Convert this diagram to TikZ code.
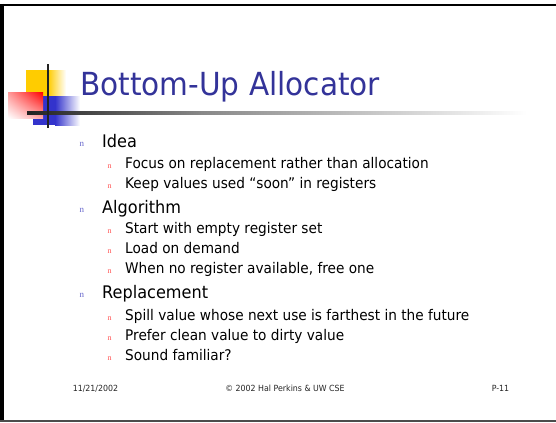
\documentclass[tikz,border=0pt]{standalone}
\usepackage{fontspec}
\usetikzlibrary{shadings}
\setmainfont[FakeStretch=0.93]{DejaVu Sans}
\newfontfamily\bulletfont{Liberation Serif}
\definecolor{titleblue}{HTML}{333399}
\definecolor{bulletblue}{HTML}{6666CC}
\definecolor{bulletred}{HTML}{FF5050}
\definecolor{logoyellow}{HTML}{FFCC00}
\definecolor{logored}{HTML}{FF0000}
\definecolor{logoblue}{HTML}{3333CC}
\definecolor{rulegray}{HTML}{222222}
\begin{document}
\begin{tikzpicture}[x=1bp,y=-1bp,
  titletext/.style={anchor=base west,inner sep=0pt,text=titleblue,font=\fontsize{31.9}{36}\selectfont},
  lvlone/.style={anchor=base west,inner sep=0pt,font=\fontsize{17.4}{20}\selectfont},
  lvltwo/.style={anchor=base west,inner sep=0pt,font=\fontsize{14.75}{18}\selectfont},
  bulone/.style={anchor=base west,inner sep=0pt,text=bulletblue,font=\bulletfont\fontsize{9}{10}\selectfont},
  bultwo/.style={anchor=base west,inner sep=0pt,text=bulletred,font=\bulletfont\fontsize{8}{9}\selectfont},
  foottext/.style={anchor=base,inner sep=0pt,text=black!85,font=\fontsize{8.5}{10}\selectfont}]
\useasboundingbox (0,0) rectangle (556,422);
\fill[white] (0,0) rectangle (556,422);

% slide frame
\draw[line width=2.5bp] (0.5,5) -- (556,5);
\draw[line width=3bp] (2,3.75) -- (2,421);
\draw[line width=2bp,black!70] (0.5,420.5) -- (556,420.5);

% corner logo
\fill[logoyellow] (26,70) rectangle (48,96);
\shade[left color=logoyellow,right color=white] (48,70) rectangle (66,96);
\fill[logoblue] (33,96) rectangle (55,125);
\shade[left color=logoblue,right color=white] (55,96) rectangle (80,125);
\shade[upper left=logored!40,upper right=logored,lower left=white,lower right=logored!35] (8,92) rectangle (43,118);
\shade[left color=rulegray,right color=black!47] (27,111.5) rectangle (200,114.5);
\shade[left color=black!47,right color=white] (200,111.5) rectangle (527,114.5);
\draw[line width=2.5bp,rulegray] (48,64) -- (48,128);

% title
\node[titletext] (title) at (80,95) {Bottom-Up Allocator};

% bullets
\node[bulone] (b1) at (79.5,146) {n};
\node[lvlone] (t1) at (102,147) {Idea};
\node[bultwo] (b11) at (107.5,168) {n};
\node[lvltwo] (t11) at (125,168) {Focus on replacement rather than allocation};
\node[bultwo] (b12) at (107.5,188) {n};
\node[lvltwo] (t12) at (125,188) {Keep values used “soon” in registers};

\node[bulone] (b2) at (79.5,212) {n};
\node[lvlone] (t2) at (102,213) {Algorithm};
\node[bultwo] (b21) at (107.5,233) {n};
\node[lvltwo] (t21) at (125,233) {Start with empty register set};
\node[bultwo] (b22) at (107.5,253) {n};
\node[lvltwo] (t22) at (125,253) {Load on demand};
\node[bultwo] (b23) at (107.5,273) {n};
\node[lvltwo] (t23) at (125,273) {When no register available, free one};

\node[bulone] (b3) at (79.5,297) {n};
\node[lvlone] (t3) at (102,298) {Replacement};
\node[bultwo] (b31) at (107.5,320) {n};
\node[lvltwo] (t31) at (125,320) {Spill value whose next use is farthest in the future};
\node[bultwo] (b32) at (107.5,340) {n};
\node[lvltwo] (t32) at (125,340) {Prefer clean value to dirty value};
\node[bultwo] (b33) at (107.5,360) {n};
\node[lvltwo] (t33) at (125,360) {Sound familiar?};

% footer
\node[foottext] (date) at (95.5,391) {11/21/2002};
\node[foottext] (copy) at (285,391) {© 2002 Hal Perkins \& UW CSE};
\node[foottext] (page) at (500.5,391) {P-11};
\end{tikzpicture}
\end{document}
